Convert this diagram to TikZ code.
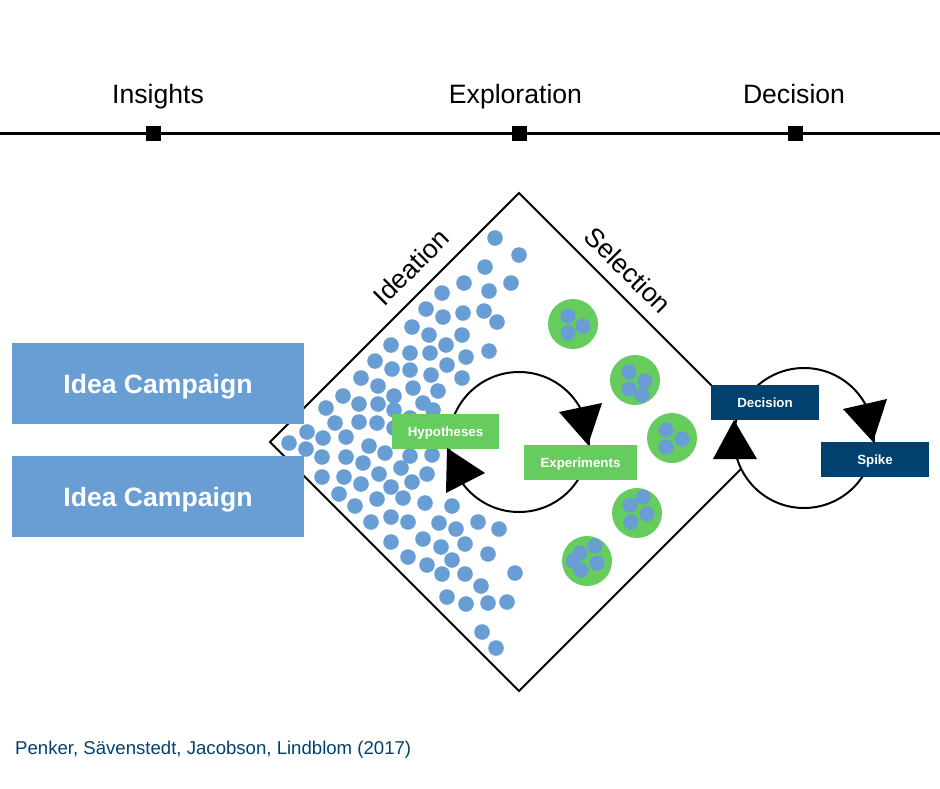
\documentclass[tikz,border=0pt]{standalone}
\usepackage{fontspec}
\setmainfont{Liberation Sans}
\definecolor{ideablue}{RGB}{104,158,212}
\definecolor{expgreen}{RGB}{102,204,94}
\definecolor{navy}{RGB}{0,65,112}
\begin{document}
\begin{tikzpicture}[x=1pt,y=-1pt,
  bigtext/.style={font=\fontsize{26.6}{32}\selectfont},
  phase/.style={bigtext,anchor=base,inner sep=0pt},
  tick/.style={fill=black,minimum size=15pt,inner sep=0pt},
  campaign/.style={fill=ideablue,text=white,minimum width=292pt,minimum height=81pt,inner sep=0pt,
    font=\fontsize{26.6}{32}\selectfont\bfseries,text height=19pt,text depth=0pt},
  smallbox/.style={text=white,minimum width=#1,minimum height=35pt,inner sep=0pt,
    font=\fontsize{13.3}{16}\selectfont\bfseries,text height=9.5pt,text depth=0pt},
  hypbox/.style={smallbox=107pt,fill=expgreen},
  navbox/.style={smallbox=108pt,fill=navy},
  cyc/.style={circle,draw=black,line width=2pt,minimum size=140pt,inner sep=0pt},
  selcirc/.style={circle,fill=expgreen,minimum size=50pt,inner sep=0pt},
  head/.style={fill=black},
  edgeline/.style={line width=2pt,draw=black}]
\useasboundingbox (0,0) rectangle (940,788);

% timeline
\coordinate (tl0) at (0,133);
\coordinate (tl1) at (940,133);
\draw[line width=3pt] (tl0) -- (tl1);
\node[tick] (t1) at (153,133) {};
\node[tick] (t2) at (519,133) {};
\node[tick] (t3) at (795,133) {};
\node[phase] (p1) at (158,103.5) {Insights};
\node[phase] (p2) at (515.5,103.5) {Exploration};
\node[phase] (p3) at (794,103.5) {Decision};

% diamond
\coordinate (dT) at (519,193);
\coordinate (dR) at (768,442);
\coordinate (dB) at (519,691);
\coordinate (dL) at (270,442);
\draw[edgeline] (dT) -- (dR) -- (dB) -- (dL) -- cycle;
\node[bigtext,rotate=45,inner sep=0pt] (ideation) at (411,267) {Ideation};
\node[bigtext,rotate=-45,inner sep=0pt] (selection) at (628,270) {Selection};

% idea dots
\foreach \x/\y in {495/238,519/255,485/267,511/283,464/283,489/291,442/293,484/311,497/322,463/313,
  443/317,426/309,412/327,429/335,462/335,446/345,489/351,391/345,410/353,430/353,466/357,375/361,
  392/369,410/370,431/375,447/365,462/378,361/378,378/386,413/388,438/391,343/396,359/404,378/404,
  394/396,423/403,394/410,433/410,410/418,326/408,335/423,359/422,377/423,394/428,307/432,289/443,
  306/449,323/438,346/437,369/446,385/453,410/456,432/455,346/457,322/457,
  363/463,379/474,401/468,427/474,322/477,344/477,361/484,391/487,412/482,339/494,355/506,377/499,
  403/498,425/503,452/506,371/522,391/517,408/522,439/523,456/529,478/522,499/529,391/542,423/539,
  441/547,465/544,488/554,408/557,427/565,452/560,442/574,465/574,481/586,515/573,447/597,466/604,
  488/603,507/602,482/632,496/648}
  \fill[ideablue] (\x,\y) circle[radius=7.8];

% selection circles
\node[selcirc] (s1) at (573,324) {};
\node[selcirc] (s2) at (635,380) {};
\node[selcirc] (s3) at (672,438) {};
\node[selcirc] (s4) at (637,513) {};
\node[selcirc] (s5) at (587,561) {};
\foreach \x/\y in {568/316,583/326,568/333,
  629/372,645/381,629/389,642/395,
  666/430,666/447,682/439,
  643/497,630/505,647/514,631/522,
  595/546,580/553,597/563,573/561,581/570}
  \fill[ideablue] (\x,\y) circle[radius=7.6];

% cycles
\node[cyc] (c1) at (519,442) {};
\node[cyc,fill=white] (c2) at (804,438) {};

% boxes
\node[campaign] (ic1) at (158,383.5) {Idea Campaign};
\node[campaign] (ic2) at (158,496.5) {Idea Campaign};
\node[hypbox] (hyp) at (445.5,431.5) {Hypotheses};
\node[hypbox,minimum width=113pt] (exp) at (580.5,462.5) {Experiments};
\node[navbox] (dec) at (765,402.5) {Decision};
\node[navbox] (spk) at (875,459.5) {Spike};

% arrowheads
\fill[head] (559,412) -- (602,403) -- (588,445) -- cycle;
\fill[head] (485,473) -- (446,493) -- (447,448) -- cycle;
\fill[head] (713,459) -- (757,459) -- (734,420) -- cycle;
\fill[head] (843,409) -- (887,399) -- (873,442) -- cycle;

% citation
\node[anchor=west,inner sep=0pt,text=navy,font=\fontsize{18.6}{22}\selectfont,text height=13.3pt,text depth=0pt]
  (cite) at (15,748) {Penker, Sävenstedt, Jacobson, Lindblom (2017)};
\end{tikzpicture}
\end{document}
